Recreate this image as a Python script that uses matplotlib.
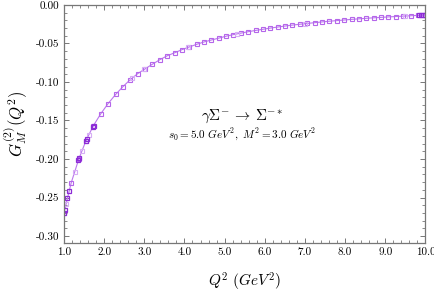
import matplotlib
matplotlib.use('Agg')
import matplotlib.pyplot as plt
from matplotlib.ticker import MultipleLocator, FormatStrFormatter

plt.rcParams['font.family'] = 'serif'
plt.rcParams['font.serif'] = ['cmr10', 'DejaVu Serif']
plt.rcParams['mathtext.fontset'] = 'cm'
plt.rcParams['axes.unicode_minus'] = False

# Datos
Q2 = [1.00, 1.18, 1.37, 1.55, 1.73, 1.92, 2.10, 2.29, 2.47, 2.65,
      2.84, 3.02, 3.20, 3.39, 3.57, 3.76, 3.94, 4.12, 4.31, 4.49,
      4.67, 4.86, 5.04, 5.22, 5.41, 5.59, 5.78, 5.96, 6.14, 6.33,
      6.51, 6.69, 6.88, 7.06, 7.24, 7.43, 7.61, 7.80, 7.98, 8.16,
      8.35, 8.53, 8.71, 8.90, 9.08, 9.27, 9.45, 9.63, 9.82, 10.00]
GM = [-0.270, -0.231, -0.200, -0.176, -0.157, -0.141, -0.128, -0.116, -0.106, -0.097,
      -0.089, -0.083, -0.077, -0.071, -0.066, -0.062, -0.058, -0.0545, -0.051, -0.048,
      -0.0455, -0.043, -0.0405, -0.0385, -0.0365, -0.0347, -0.033, -0.0315, -0.030, -0.0286,
      -0.0273, -0.0261, -0.025, -0.024, -0.023, -0.022, -0.0211, -0.0203, -0.0195, -0.0187,
      -0.018, -0.0173, -0.0167, -0.0161, -0.0155, -0.0150, -0.0145, -0.0140, -0.0135, -0.0130]

# Puntos superpuestos (más oscuros)
Q2_dark = [1.00, 1.02, 1.08, 1.12, 1.35, 1.37, 1.55, 1.57, 1.72, 1.74, 9.85, 9.90, 9.95, 10.00]
GM_dark = [-0.270, -0.266, -0.250, -0.242, -0.201, -0.199, -0.176, -0.174, -0.159, -0.157,
           -0.0134, -0.0133, -0.0131, -0.0130]

# Puntos intermedios claros
Q2_light = [1.05, 1.27, 1.45, 1.62, 2.70, 3.00, 4.10, 5.30, 7.00, 9.50]
GM_light = [-0.258, -0.2165, -0.190, -0.169, -0.0945, -0.0835, -0.0548, -0.0375, -0.0243, -0.0144]

fig, ax = plt.subplots(figsize=(4.35, 2.92), dpi=100)
fig.subplots_adjust(left=0.147, right=0.978, top=0.983, bottom=0.168)

ax.plot(Q2, GM, color='#bb77ee', lw=0.8, marker='s', ms=3.5, mfc='none',
        mec='#b566ea', mew=0.8)
ax.plot(Q2_light, GM_light, ls='none', marker='s', ms=3.5, mfc='none',
        mec='#d7aef5', mew=0.8)
ax.plot(Q2_dark, GM_dark, ls='none', marker='s', ms=3.5, mfc='none',
        mec='#8c2bd6', mew=0.9)

ax.set_xlim(1.0, 10.0)
ax.set_ylim(-0.309, 0.0)
ax.xaxis.set_major_locator(MultipleLocator(1.0))
ax.xaxis.set_minor_locator(MultipleLocator(0.2))
ax.yaxis.set_major_locator(MultipleLocator(0.05))
ax.yaxis.set_minor_locator(MultipleLocator(0.01))
ax.xaxis.set_major_formatter(FormatStrFormatter('%.1f'))
ax.yaxis.set_major_formatter(FormatStrFormatter('%.2f'))
ax.tick_params(which='both', direction='in', top=True, right=True,
               color='#777777', labelsize=8)
ax.tick_params(which='major', length=3.5, width=0.7)
ax.tick_params(which='minor', length=2, width=0.6)
for s in ax.spines.values():
    s.set_color('#777777')
    s.set_linewidth(0.9)

ax.set_xlabel(r'$Q^2\ (GeV^2)$', fontsize=11, labelpad=10)
ax.set_ylabel(r'$G_M^{(2)}(Q^2)$', fontsize=12, labelpad=4)

ax.text(5.43, -0.145, r'$\gamma\Sigma^{-}\,\rightarrow\,\Sigma^{-*}$', fontsize=11,
        ha='center', va='center')
ax.text(5.43, -0.169, r'$s_0=5.0\ GeV^2,\ M^2=3.0\ GeV^2$', fontsize=8,
        ha='center', va='center')

plt.savefig('out.png', dpi=100)
